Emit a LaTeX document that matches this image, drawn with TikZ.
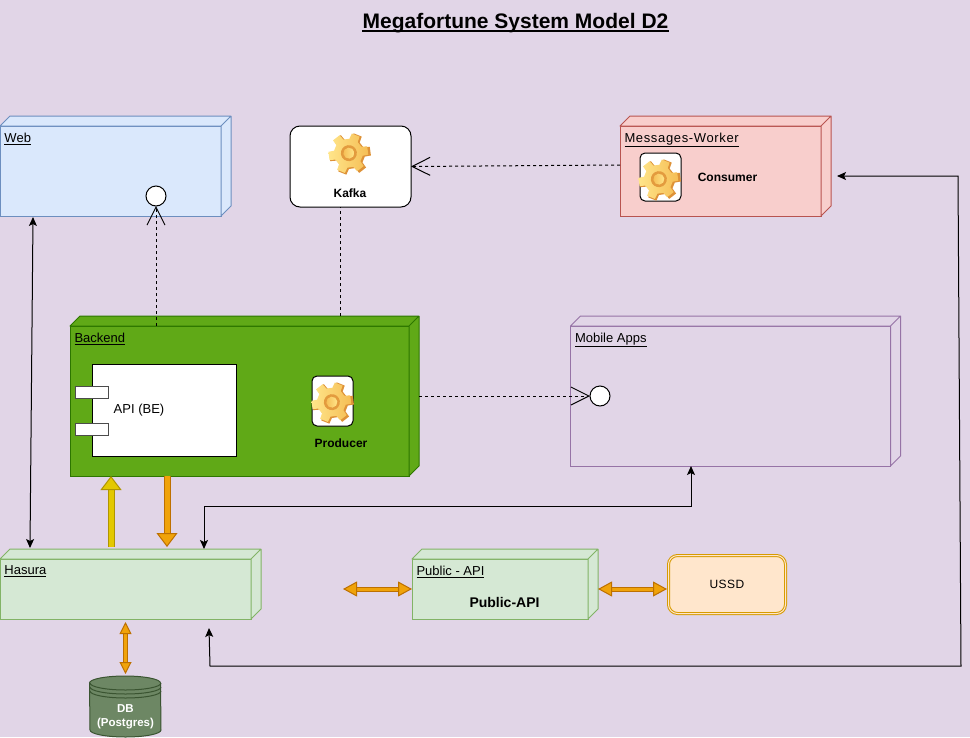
\documentclass[tikz,border=0pt]{standalone}
\usepackage{fontspec}
\setmainfont{Liberation Sans}
\usetikzlibrary{arrows.meta}
\definecolor{bgpurple}{HTML}{E1D5E7}
\definecolor{mobileline}{HTML}{9673A6}
\definecolor{webfill}{HTML}{DAE8FC}
\definecolor{webline}{HTML}{6C8EBF}
\definecolor{workerfill}{HTML}{F8CECC}
\definecolor{workerline}{HTML}{B85450}
\definecolor{backendfill}{HTML}{60A917}
\definecolor{backendline}{HTML}{2D7600}
\definecolor{hasurafill}{HTML}{D5E8D4}
\definecolor{hasuraline}{HTML}{82B366}
\definecolor{ussdfill}{HTML}{FFE6CC}
\definecolor{ussdline}{HTML}{D79B00}
\definecolor{dbfill}{HTML}{6D8764}
\definecolor{dbline}{HTML}{3A5431}
\definecolor{upfill}{HTML}{E3C800}
\definecolor{upline}{HTML}{B09500}
\definecolor{fatfill}{HTML}{F0A30A}
\definecolor{fatline}{HTML}{BD7000}
\definecolor{gearlight}{HTML}{FFE68A}
\definecolor{gearmid}{HTML}{F5BE55}
\definecolor{geardark}{HTML}{DE9238}
\tikzset{
  x=1pt,y=-1pt,
  every path/.style={line width=1pt},
  plain/.style={font=\fontsize{13}{15}\selectfont,inner sep=0pt},
  heavy/.style={font=\fontsize{12}{14}\selectfont\bfseries,inner sep=0pt},
  deploy/.style={draw,rectangle,anchor=north west,outer sep=0pt,inner sep=0pt},
  round/.style={draw=black,fill=white,rectangle,rounded corners=#1,anchor=north west,outer sep=0pt,inner sep=0pt},
  lolly/.style={draw=black,fill=white,circle,minimum size=20pt,inner sep=0pt,outer sep=0pt},
  port/.style={draw=black!70,fill=white,rectangle,anchor=north west,minimum width=33pt,minimum height=12pt,inner sep=0pt},
  dep/.style={draw=black,dash pattern=on 3pt off 3pt,-{Straight Barb[length=18pt,width=18pt,line width=1pt]}},
  tie/.style={draw=black,dash pattern=on 3pt off 3pt},
  link/.style={draw=black,{Stealth[length=9pt,width=8pt,inset=2pt]}-{Stealth[length=9pt,width=8pt,inset=2pt]}},
  fat/.style 2 args={draw=#2,double=#1,double distance=5pt,-{Triangle[length=14pt,width=21pt,fill=#1,line width=1pt]}},
  fatboth/.style={draw=fatline,double=fatfill,double distance=3pt,
    {Triangle[length=14pt,width=15pt,fill=fatfill,line width=1pt]}-{Triangle[length=14pt,width=15pt,fill=fatfill,line width=1pt]}},
  fatshort/.style={draw=fatline,double=fatfill,double distance=3pt,
    {Triangle[length=12pt,width=12pt,fill=fatfill,line width=1pt]}-{Triangle[length=12pt,width=12pt,fill=fatfill,line width=1pt]}},
}
\newcommand{\deploybox}[8]{
  \node[deploy,fill=#6,draw=#7,minimum width=#4pt,minimum height=#5pt] (#1) at (#2,#3) {};
  \filldraw[fill=#6,draw=#7,line join=round] (#1.north west) -- +(10,-10) -- ([shift={(10,-10)}]#1.north east) -- ([shift={(10,-10)}]#1.south east) -- (#1.south east) -- (#1.north east) -- cycle (#1.north east) -- +(10,-10);
  \node[plain,anchor=north west] (#1Label) at ([shift={(4,6.5)}]#1.north west) {\underline{#8}};
}
\newcommand{\gear}[2]{
  \begin{scope}[shift={(#1,#2)},rotate=8]
    \fill[geardark] (-18:15) \foreach \a in {0,60,...,300}{ -- (\a-12:21) -- (\a+12:21) -- (\a+18:15) -- (\a+42:15)} -- cycle;
    \shade[left color=gearlight,right color=gearmid,shift={(-1.5,-1)}] (-18:15) \foreach \a in {0,60,...,300}{ -- (\a-12:20) -- (\a+12:20) -- (\a+18:14.5) -- (\a+42:14.5)} -- cycle;
    \fill[geardark!80!gearmid] (-1,-1) circle[radius=8];
    \shade[left color=gearmid,right color=gearlight] (-1,-1) circle[radius=5.5];
  \end{scope}
}
\begin{document}
\begin{tikzpicture}
  \useasboundingbox[fill=bgpurple] (0,0) rectangle (970,737);
  \node[font=\fontsize{21}{25}\selectfont\bfseries,inner sep=0pt,anchor=base] (Title) at (515.5,28) {Megafortune System Model D2};
  \draw[line width=1.8pt] ([yshift=-2.6pt]Title.base west) -- ([yshift=-2.6pt]Title.base east);

  \deploybox{Web}{0}{126}{221}{90}{webfill}{webline}{Web}
  \deploybox{Worker}{620}{126}{201}{90}{workerfill}{workerline}{\addfontfeatures{LetterSpace=5}Messages-Worker}
  \deploybox{Backend}{70}{326}{339}{150}{backendfill}{backendline}{Backend}
  \deploybox{Mobile}{570.5}{326}{320}{140}{bgpurple}{mobileline}{Mobile Apps}
  \deploybox{Hasura}{0}{559}{251}{60}{hasurafill}{hasuraline}{Hasura}
  \deploybox{Public}{412}{559}{176}{60}{hasurafill}{hasuraline}{Public - API}

  \node[round=10pt,minimum width=121pt,minimum height=81pt] (Kafka) at (290,126) {};
  \gear{350}{154}
  \node[heavy] (KafkaText) at (350,193) {Kafka};

  \node[round=5pt,minimum width=41pt,minimum height=48pt] (Consumer) at (640,153) {};
  \gear{660}{180}
  \node[heavy] (ConsumerText) at (727.5,177.5) {Consumer};

  \node[draw=black,fill=white,rectangle,anchor=north west,minimum width=144pt,minimum height=92pt,inner sep=0pt] (Api) at (92,364) {};
  \node[port] (ApiTop) at (75,386) {};
  \node[port] (ApiBottom) at (75,423) {};
  \node[plain] (ApiText) at (139,410.5) {API (BE)};

  \node[round=5pt,minimum width=41pt,minimum height=50pt] (Producer) at (312,376) {};
  \gear{333}{403}
  \node[heavy] (ProducerText) at (341,443) {Producer};

  \node[plain,font=\fontsize{14}{16}\selectfont\bfseries] (PublicText) at (504.5,602) {Public-API};

  \node[draw=ussdline,double=ussdfill,double distance=1pt,fill=ussdfill,rectangle,rounded corners=9pt,anchor=north west,minimum width=117pt,minimum height=58pt,inner sep=0pt,outer sep=1.5pt,plain,font=\fontsize{12}{14}\selectfont\addfontfeatures{LetterSpace=4}] (Ussd) at (667,554) {USSD};

  \node[lolly] (WebLolly) at (156,196) {};
  \node[lolly] (MobileLolly) at (600,396) {};

  \node[inner sep=0pt,minimum width=71pt,minimum height=61pt,anchor=north] (Db) at (125.5,676) {};
  \filldraw[fill=dbfill,draw=dbline] (Db.north west) ++(0,7) arc[start angle=180,end angle=360,x radius=35.5,y radius=7] -- (161,730) arc[start angle=0,end angle=180,x radius=35.5,y radius=7] -- cycle;
  \draw[dbline] (90,683) arc[start angle=180,end angle=0,x radius=35.5,y radius=7];
  \draw[dbline] (90,687) arc[start angle=180,end angle=0,x radius=35.5,y radius=7];
  \draw[dbline] (90,691) arc[start angle=180,end angle=0,x radius=35.5,y radius=7];
  \node[font=\fontsize{11.5}{14}\selectfont\bfseries,text=white,align=center,inner sep=0pt] (DbText) at (125.5,716.5) {DB\\(Postgres)};

  \coordinate (WebDown) at (33,217);
  \coordinate (HasuraUp) at (30,548);
  \coordinate (WebDep) at (156,326);
  \coordinate (KafkaDown) at (340,316);
  \coordinate (UpFrom) at (111,547);
  \coordinate (UpTo) at (111,476);
  \coordinate (DownFrom) at (167,476);
  \coordinate (DownTo) at (167,547);
  \coordinate (MobileDown) at (691,466);
  \coordinate (HasuraTop) at (204,549);
  \coordinate (WorkerIn) at (837,176);
  \coordinate (HasuraIn) at (209,628);
  \coordinate (PublicLeft) at (343,589);
  \coordinate (PublicRight) at (598,589);
  \coordinate (HasuraBelow) at (125.5,622);
  \coordinate (DbAbove) at (125.5,674);

  \draw[dep] (Worker.west |- 0,165) -- (Kafka.east |- 0,166.5);
  \draw[tie] (KafkaDown) -- (KafkaDown |- Kafka.south);
  \draw[dep] (WebDep) -- (WebLolly.south);
  \draw[dep] (Backend.east |- MobileLolly) ++(10,0) -- (MobileLolly.west);
  \draw[link] (WebDown) -- (HasuraUp);
  \draw[link] (MobileDown) -- (691,506) -- (204,506) -- (HasuraTop);
  \draw[link] (WorkerIn) -- (958,176) -- (961,666) -- (210,666) -- (HasuraIn);
  \draw[fat={upfill}{upline}] (UpFrom) -- (UpTo);
  \draw[fat={fatfill}{fatline}] (DownFrom) -- (DownTo);
  \draw[fatboth] (PublicLeft) -- (Public.west |- PublicLeft);
  \draw[fatboth] (PublicRight) -- (Ussd.west |- PublicRight);
  \draw[fatshort] (HasuraBelow) -- (DbAbove);
\end{tikzpicture}
\end{document}
